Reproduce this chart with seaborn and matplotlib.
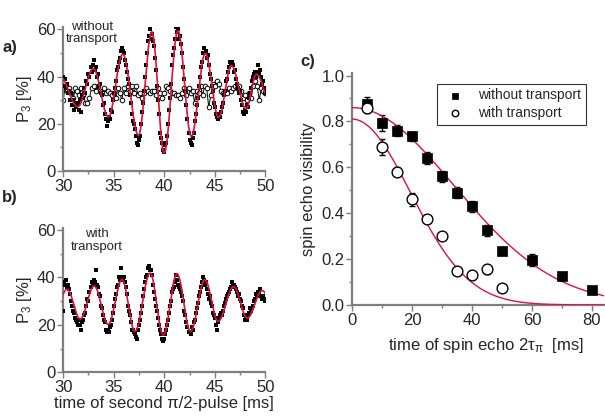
import numpy as np
import pandas as pd
import matplotlib
matplotlib.use("Agg")
import matplotlib.pyplot as plt
import seaborn as sns
from matplotlib.ticker import MultipleLocator

# ---- panel a: without transport (scan of second pi/2 pulse, 0.1 ms steps)
t_scan = np.round(np.arange(30.0, 50.05, 0.1), 1)
p3_without = [
    40, 36, 39, 35, 37, 33, 34, 30, 33, 28, 30, 26, 29, 27, 28, 29, 26, 30, 25, 32,
    31, 35, 33, 38, 37, 41, 40, 44, 42, 45, 47, 43, 44, 40, 41, 36, 37, 33, 32, 28,
    29, 24, 22, 19, 21, 23, 22, 26, 25, 30, 33, 35, 38, 43, 44, 46, 48, 51, 52, 51,
    50, 47, 45, 42, 39, 37, 32, 29, 24, 21, 20, 18, 15, 12, 11, 13, 15, 20, 25, 29,
    34, 40, 45, 50, 55, 57, 60, 56, 58, 55, 53, 48, 43, 36, 30, 24, 16, 14, 12, 9,
    8, 11, 12, 15, 20, 26, 31, 37, 45, 49, 52, 56, 61, 59, 60, 56, 57, 54, 50, 44,
    39, 34, 28, 22, 16, 13, 12, 11, 14, 16, 21, 24, 28, 31, 36, 40, 44, 46, 50, 52,
    50, 51, 48, 49, 45, 41, 39, 36, 34, 29, 27, 24, 23, 22, 24, 23, 25, 27, 29, 32,
    34, 38, 39, 42, 44, 46, 45, 46, 45, 42, 43, 39, 37, 35, 33, 34, 30, 28, 25, 24,
    26, 25, 28, 27, 31, 33, 35, 38, 40, 41, 42, 40, 42, 45, 41, 43, 40, 37, 38, 35,
    33,
]

# open circles: with transport, 0.2 ms steps
t_scan_circ = np.round(np.arange(30.0, 50.05, 0.2), 1)
p3_with_a = [
    30, 36, 34, 35, 33, 31, 35, 34, 32, 35, 32, 29, 29, 31, 35, 36, 34, 36, 34, 33,
    35, 33, 34, 33, 32, 33, 31, 35, 33, 30, 35, 33, 36, 34, 36, 33, 36, 32, 33, 31,
    33, 35, 34, 33, 34, 34, 32, 35, 33, 31, 33, 36, 35, 34, 33, 33, 32, 32, 31, 33,
    35, 32, 35, 33, 34, 29, 34, 33, 36, 32, 36, 35, 27, 32, 37, 36, 38, 37, 34, 33,
    34, 33, 35, 34, 35, 36, 35, 36, 34, 31, 32, 30, 33, 31, 36, 38, 36, 30, 35, 34,
    33,
]

# fitted curve of panel a, read as its turning points (time, value)
fit_a_t = [29.7, 31.43, 32.98, 34.47, 35.89, 37.44, 38.77, 39.99, 41.35, 42.67,
           44.06, 45.38, 46.64, 48.09, 49.12, 50.6]
fit_a_v = [40.0, 27.2, 43.4, 22.9, 49.5, 15.1, 59.0, 7.6, 59.4, 14.7,
           49.8, 22.6, 44.6, 26.4, 41.0, 28.0]

# ---- panel b: with transport
p3_with_b = [
    26, 38, 37, 39, 36, 37, 35, 33, 30, 28, 26, 25, 23, 22, 21, 20, 22, 20, 18, 21,
    22, 24, 25, 28, 31, 30, 34, 36, 38, 37, 39, 38, 43, 37, 36, 33, 32, 28, 27, 24,
    22, 21, 18, 17, 18, 17, 19, 20, 22, 25, 28, 31, 33, 36, 37, 40, 39, 44, 40, 39,
    40, 38, 36, 33, 28, 26, 24, 21, 18, 18, 17, 16, 15, 14, 18, 20, 22, 25, 28, 32,
    35, 38, 40, 41, 44, 45, 43, 43, 41, 37, 34, 31, 28, 26, 23, 20, 18, 16, 14, 13,
    14, 16, 18, 20, 22, 25, 28, 30, 34, 35, 36, 38, 41, 39, 37, 36, 35, 34, 32, 30,
    26, 24, 21, 19, 17, 17, 16, 19, 18, 21, 22, 25, 27, 29, 32, 34, 36, 38, 40, 39,
    37, 38, 35, 33, 31, 32, 29, 28, 25, 24, 23, 20, 18, 21, 23, 24, 25, 24, 26, 28,
    29, 31, 32, 33, 34, 35, 36, 38, 37, 37, 36, 35, 34, 32, 33, 31, 30, 28, 27, 24,
    22, 23, 22, 24, 25, 27, 26, 27, 28, 30, 31, 33, 32, 34, 33, 35, 32, 31, 32, 31,
    30,
]
fit_b_t = [29.0, 30.38, 31.68, 33.07, 34.45, 35.82, 37.1, 38.6, 39.9, 41.26,
           42.6, 44.02, 45.33, 46.86, 48.22, 49.7, 51.1]
fit_b_v = [23.0, 35.0, 22.5, 36.4, 20.2, 39.1, 17.2, 41.8, 15.7, 41.5,
           17.3, 39.0, 21.5, 36.1, 22.9, 34.4, 24.5]

# ---- panel c: spin echo visibility
echo_t_without = [5, 10, 15, 20, 25, 30, 35, 40, 45, 50, 60, 70, 80]
vis_without = [0.875, 0.795, 0.76, 0.735, 0.64, 0.56, 0.49, 0.43, 0.325, 0.235, 0.195, 0.125, 0.065]
err_without = [0.03, 0.035, 0.025, 0.02, 0.025, 0.025, 0.025, 0.025, 0.025, 0.01, 0.025, 0.01, 0.01]
echo_t_with = [5, 10, 15, 20, 25, 30, 35, 40, 45, 50]
vis_with = [0.86, 0.69, 0.58, 0.46, 0.375, 0.30, 0.15, 0.13, 0.155, 0.075]
err_with = [0.025, 0.035, 0.02, 0.03, 0.01, 0.01, 0.01, 0.01, 0.02, 0.01]
# Gaussian decay fits: amplitude and 1/e time [ms]
fit_c_amp = [0.86, 0.81]
fit_c_width = [48.0, 27.5]

RED = "#e0103c"
GREY = "#7f7f7f"


def turning_point_curve(ext_t, ext_v, t):
    ext_t = np.asarray(ext_t)
    ext_v = np.asarray(ext_v)
    seg = np.clip(np.searchsorted(ext_t, t) - 1, 0, len(ext_t) - 2)
    f = (t - ext_t[seg]) / (ext_t[seg + 1] - ext_t[seg])
    return ext_v[seg] + (ext_v[seg + 1] - ext_v[seg]) * (1 - np.cos(np.pi * f)) / 2


sns.set_style("ticks")
plt.rcParams["font.family"] = ["Liberation Sans", "DejaVu Sans"]
plt.rcParams["mathtext.fontset"] = "custom"
plt.rcParams["mathtext.rm"] = "Liberation Sans"
plt.rcParams["mathtext.it"] = "Liberation Sans"

fig = plt.figure(figsize=(6.05, 4.16), dpi=100)
ax_a = fig.add_axes([0.1045, 0.589, 0.334, 0.346])
ax_b = fig.add_axes([0.1045, 0.105, 0.334, 0.348])
ax_c = fig.add_axes([0.582, 0.267, 0.416, 0.557])

t_fine = np.linspace(30, 50, 800)

# panel a
df_circ = pd.DataFrame({"t": t_scan_circ, "p3": p3_with_a})
sns.lineplot(data=df_circ, x="t", y="p3", ax=ax_a, color="black", lw=0.7,
             marker="o", markersize=3.3, markerfacecolor="white",
             markeredgecolor="black", markeredgewidth=0.7, estimator=None, zorder=2)
df_a = pd.DataFrame({"t": t_scan, "p3": p3_without})
sns.scatterplot(data=df_a, x="t", y="p3", ax=ax_a, marker="s", s=11,
                color="black", edgecolor="black", linewidth=0, zorder=3)
sns.lineplot(x=t_fine, y=turning_point_curve(fit_a_t, fit_a_v, t_fine), ax=ax_a,
             color=RED, lw=1.2, estimator=None, zorder=4)
ax_a.text(32.85, 58.4, "without\ntransport", ha="center", va="center", fontsize=9.5,
          linespacing=1.0)

# panel b
df_b = pd.DataFrame({"t": t_scan, "p3": p3_with_b})
sns.scatterplot(data=df_b, x="t", y="p3", ax=ax_b, marker="s", s=11,
                color="black", edgecolor="black", linewidth=0, zorder=3)
sns.lineplot(x=t_fine, y=turning_point_curve(fit_b_t, fit_b_v, t_fine), ax=ax_b,
             color=RED, lw=1.2, estimator=None, zorder=4)
ax_b.text(33.35, 55.5, "with\ntransport", ha="center", va="center", fontsize=9.5,
          linespacing=1.05)

for ax in (ax_a, ax_b):
    ax.set_xlim(30, 50)
    ax.set_ylim(0, 61)
    ax.xaxis.set_major_locator(MultipleLocator(5))
    ax.xaxis.set_minor_locator(MultipleLocator(2.5))
    ax.yaxis.set_major_locator(MultipleLocator(20))
    ax.yaxis.set_minor_locator(MultipleLocator(10))
    ax.set_ylabel("P$_3$ [%]", fontsize=12, labelpad=2)
    ax.set_xlabel("")

ax_b.set_xlabel("time of second \u03c0/2-pulse [ms]", fontsize=12, labelpad=1)

# panel c
c_t = np.linspace(0, 84, 400)
ax_c.errorbar(echo_t_without, vis_without, yerr=err_without, fmt="none",
              ecolor="black", elinewidth=1, capsize=2.5, capthick=1, zorder=2)
ax_c.errorbar(echo_t_with, vis_with, yerr=err_with, fmt="none",
              ecolor="black", elinewidth=1, capsize=2.5, capthick=1, zorder=2)
for amp, width in zip(fit_c_amp, fit_c_width):
    sns.lineplot(x=c_t, y=amp * np.exp(-(c_t / width) ** 2), ax=ax_c,
                 color=RED, lw=1.0, estimator=None, zorder=3)
sns.scatterplot(x=echo_t_without, y=vis_without, ax=ax_c, marker="s", s=55,
                color="black", edgecolor="black", linewidth=0.5, zorder=4,
                label="without transport")
sns.scatterplot(x=echo_t_with, y=vis_with, ax=ax_c, marker="o", s=60,
                facecolor="white", edgecolor="black", linewidth=1.0, zorder=4,
                label="with transport")
ax_c.set_xlim(0, 84)
ax_c.set_ylim(0, 1.01)
ax_c.xaxis.set_major_locator(MultipleLocator(20))
ax_c.xaxis.set_minor_locator(MultipleLocator(10))
ax_c.yaxis.set_major_locator(MultipleLocator(0.2))
ax_c.yaxis.set_minor_locator(MultipleLocator(0.1))
ax_c.yaxis.set_major_formatter(matplotlib.ticker.FormatStrFormatter("%.1f"))
ax_c.set_ylabel("spin echo visibility", fontsize=12, labelpad=4)
ax_c.set_xlabel("time of spin echo 2$\\tau_\\pi$  [ms]", fontsize=12, labelpad=3)
ax_c.xaxis.set_label_coords(0.53, -0.135)
leg = ax_c.legend(loc="upper right", bbox_to_anchor=(0.955, 0.985), fontsize=10,
                  frameon=True, fancybox=False, edgecolor="black",
                  markerscale=0.6, handletextpad=0.6, borderpad=0.35,
                  labelspacing=0.25)
leg.get_frame().set_linewidth(0.8)

for ax in (ax_a, ax_b, ax_c):
    sns.despine(ax=ax)
    for side in ("left", "bottom"):
        ax.spines[side].set_color(GREY)
        ax.spines[side].set_linewidth(1.6)
    ax.tick_params(which="major", direction="out", length=4, width=1,
                   color=GREY, labelsize=12, pad=1.5)
    ax.tick_params(which="minor", direction="out", length=2.5, width=1, color=GREY)

fig.text(0.004, 0.875, "a)", fontsize=12, fontweight="bold")
fig.text(0.004, 0.515, "b)", fontsize=12, fontweight="bold")
fig.text(0.497, 0.842, "c)", fontsize=12, fontweight="bold")

fig.savefig("out.png", dpi=100)
